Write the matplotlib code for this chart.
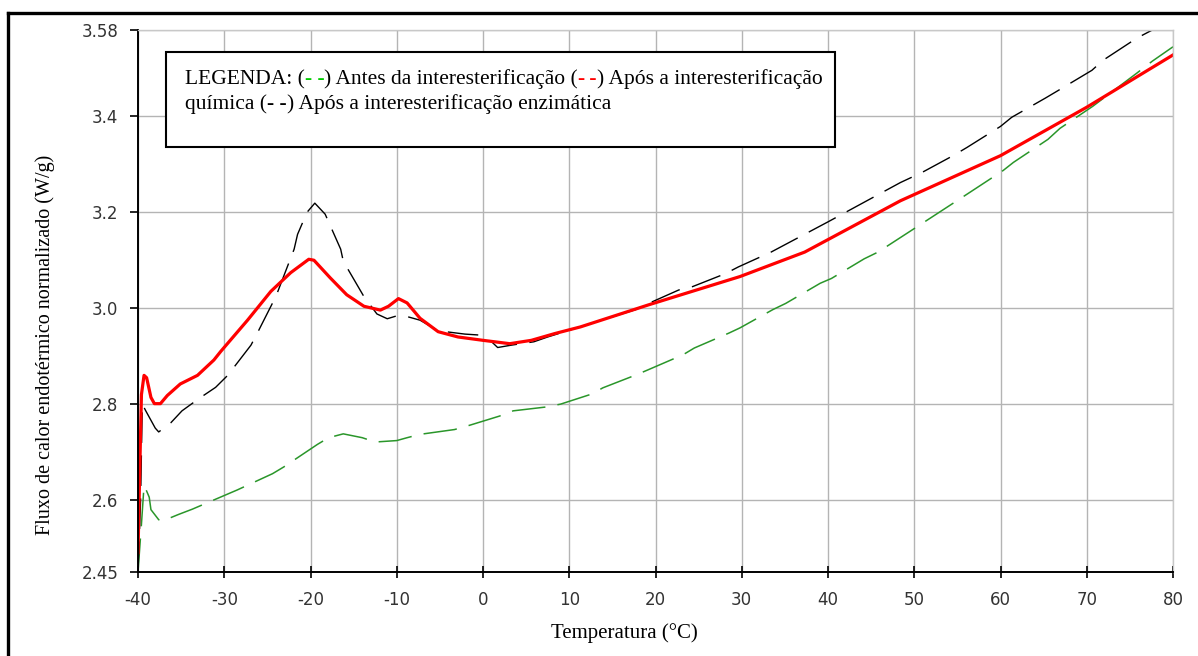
import matplotlib
matplotlib.use("Agg")
from matplotlib import pyplot as plt
from matplotlib.lines import Line2D
from matplotlib.text import Annotation

plt.rcParams["axes.unicode_minus"] = False

# curves (temperature in C, heat flow in W/g)
red_t = [-40, -39.8, -39.6, -39.3, -39.0, -38.5, -38.1, -37.4, -36.6, -35.1, -33.1, -31.2,
         -30.4, -27.3, -24.6, -22.3, -20.2, -19.6, -17.7, -15.8, -13.8, -11.9, -10.96, -9.8,
         -8.8, -7.3, -5.2, -2.9, 0, 3.1, 5.6, 8.3, 11.3, 19.2, 29.8, 37.3, 48.4, 60, 70, 80]
red_q = [2.49, 2.66, 2.82, 2.86, 2.855, 2.814, 2.801, 2.801, 2.818, 2.842, 2.86, 2.892,
         2.91, 2.975, 3.035, 3.074, 3.102, 3.100, 3.063, 3.028, 3.004, 2.996, 3.004, 3.02,
         3.011, 2.979, 2.951, 2.94, 2.933, 2.926, 2.933, 2.947, 2.961, 3.007, 3.066, 3.117,
         3.224, 3.318, 3.419, 3.528]

black_t = [-40, -39.7, -39.5, -39.1, -38.0, -37.6, -36.2, -34.9, -32.9, -31.0, -29.6, -26.9,
           -26.0, -24.0, -23.1, -21.9, -21.5, -20.4, -19.5, -18.3, -16.5, -16.2, -13.8, -12.3,
           -11.1, -10.0, -8.7, -7.3, -5.2, -2.1, -0.4, 1.0, 1.7, 3.3, 5.9, 7.5, 10.0, 13.9,
           17.7, 19.2, 22.7, 24.3, 28.1, 29.6, 33.4, 40.0, 48.4, 50.9, 54.5, 56.1, 60.0, 61.3,
           65.2, 66.7, 70.6, 71.9, 75.8, 77.6, 80]
black_q = [2.45, 2.60, 2.80, 2.786, 2.75, 2.742, 2.761, 2.786, 2.812, 2.835, 2.86, 2.923,
           2.954, 3.025, 3.067, 3.123, 3.154, 3.200, 3.219, 3.196, 3.123, 3.098, 3.024, 2.988,
           2.978, 2.984, 2.982, 2.975, 2.953, 2.946, 2.944, 2.93, 2.918, 2.923, 2.93, 2.94,
           2.954, 2.976, 2.997, 3.01, 3.038, 3.045, 3.072, 3.086, 3.117, 3.18, 3.262, 3.283,
           3.318, 3.335, 3.379, 3.398, 3.438, 3.454, 3.496, 3.517, 3.563, 3.58, 3.615]

green_t = [-40, -39.6, -39.3, -39.1, -38.7, -38.5, -37.6, -37.2, -35.3, -33.7, -29.8, -28.5,
           -24.4, -23.1, -19.2, -17.9, -16.2, -14.0, -12.5, -10.0, -8.8, -7.3, -3.3, -1.9,
           1.9, 3.5, 7.3, 9.0, 12.6, 13.9, 17.9, 19.2, 23.2, 24.5, 28.5, 29.8, 33.6, 35.1,
           39.1, 40.4, 44.2, 45.8, 50.0, 56.4, 60.3, 61.5, 65.5, 66.9, 70.7, 75.8, 77.6, 80]
green_q = [2.45, 2.55, 2.63, 2.623, 2.606, 2.58, 2.559, 2.556, 2.57, 2.581, 2.611, 2.621,
           2.655, 2.669, 2.716, 2.73, 2.738, 2.73, 2.721, 2.724, 2.73, 2.737, 2.747, 2.754,
           2.775, 2.786, 2.794, 2.80, 2.821, 2.834, 2.862, 2.872, 2.903, 2.917, 2.948, 2.959,
           2.997, 3.01, 3.052, 3.062, 3.103, 3.117, 3.166, 3.241, 3.287, 3.304, 3.352, 3.375,
           3.421, 3.49, 3.515, 3.545]

x_ticks = [-40, -30, -20, -10, 0, 10, 20, 30, 40, 50, 60, 70, 80]
y_ticks = [2.45, 2.6, 2.8, 3.0, 3.2, 3.4, 3.58]
y_labels = ["2.45", "2.6", "2.8", "3.0", "3.2", "3.4", "3.58"]

fig = plt.figure(figsize=(11.98, 6.56), dpi=100)
ax = fig.add_axes([138 / 1198, 84 / 656, 1035 / 1198, 542 / 656])

ax.plot(green_t, green_q, color="#2a962a", lw=1.1, dashes=(22, 8))
ax.plot(black_t, black_q, color="black", lw=1.0, dashes=(22, 9))
ax.plot(red_t, red_q, color="red", lw=2.3)

ax.set_xlim(-40, 80)
ax.set_ylim(2.45, 3.58)
ax.set_xticks(x_ticks)
ax.set_yticks(y_ticks)
ax.set_yticklabels(y_labels)
ax.grid(True, color="#b4b4b4", lw=1.0)
ax.set_axisbelow(True)

for s in ["top", "right"]:
    ax.spines[s].set_color("#c8c8c8")
    ax.spines[s].set_linewidth(1.0)
for s in ["left", "bottom"]:
    ax.spines[s].set_color("black")
    ax.spines[s].set_linewidth(1.4)

ax.tick_params(axis="y", direction="out", length=6, width=1.2, pad=8,
               labelsize=12, labelcolor="#333333")
ax.tick_params(axis="x", direction="inout", length=8, width=1.2, pad=10,
               labelsize=12, labelcolor="#333333")

serif = ["Liberation Serif", "DejaVu Serif"]
fig.text(45 / 1198, 1 - 345 / 656, "Fluxo de calor endotérmico normalizado (W/g)",
         rotation=90, ha="center", va="center", family=serif, fontsize=14.5)
fig.text(624 / 1198, 1 - 633 / 656, "Temperatura (°C)",
         ha="center", va="center", family=serif, fontsize=15)

# legend box drawn as a framed text block
box = plt.Rectangle((166 / 1198, 1 - 147 / 656), (835 - 166) / 1198, 95 / 656,
                    transform=fig.transFigure, fill=True, facecolor="white",
                    edgecolor="black", lw=1.5, zorder=5)
fig.add_artist(box)

fs = 15.5
line1 = [("LEGENDA: (", "black", "normal"), ("- -", "#00cc00", "bold"),
         (") Antes da interesterificação (", "black", "normal"), ("-\u2009-", "red", "bold"),
         (") Após a interesterificação", "black", "normal")]
line2 = [("química (", "black", "normal"), ("- -", "black", "bold"),
         (") Após a interesterificação enzimática", "black", "normal")]

for y_px, parts in [(89, line1), (114, line2)]:
    prev = None
    for txt, col, wt in parts:
        if prev is None:
            prev = fig.text(185 / 1198, 1 - y_px / 656, txt, color=col, weight=wt,
                            family=serif, fontsize=fs, va="bottom", zorder=6)
        else:
            prev = fig.add_artist(Annotation(txt, xy=(1, 0), xycoords=prev, va="bottom",
                                             ha="left", color=col, weight=wt, family=serif,
                                             fontsize=fs, zorder=6))

# outer frame (left and top edges only)
fig.add_artist(Line2D([8 / 1198, 8 / 1198], [0, 1 - 13 / 656], color="black", lw=2.4,
                      transform=fig.transFigure))
fig.add_artist(Line2D([8 / 1198, 1], [1 - 13 / 656, 1 - 13 / 656], color="black", lw=2.4,
                      transform=fig.transFigure))

fig.savefig("out.png", dpi=100)
